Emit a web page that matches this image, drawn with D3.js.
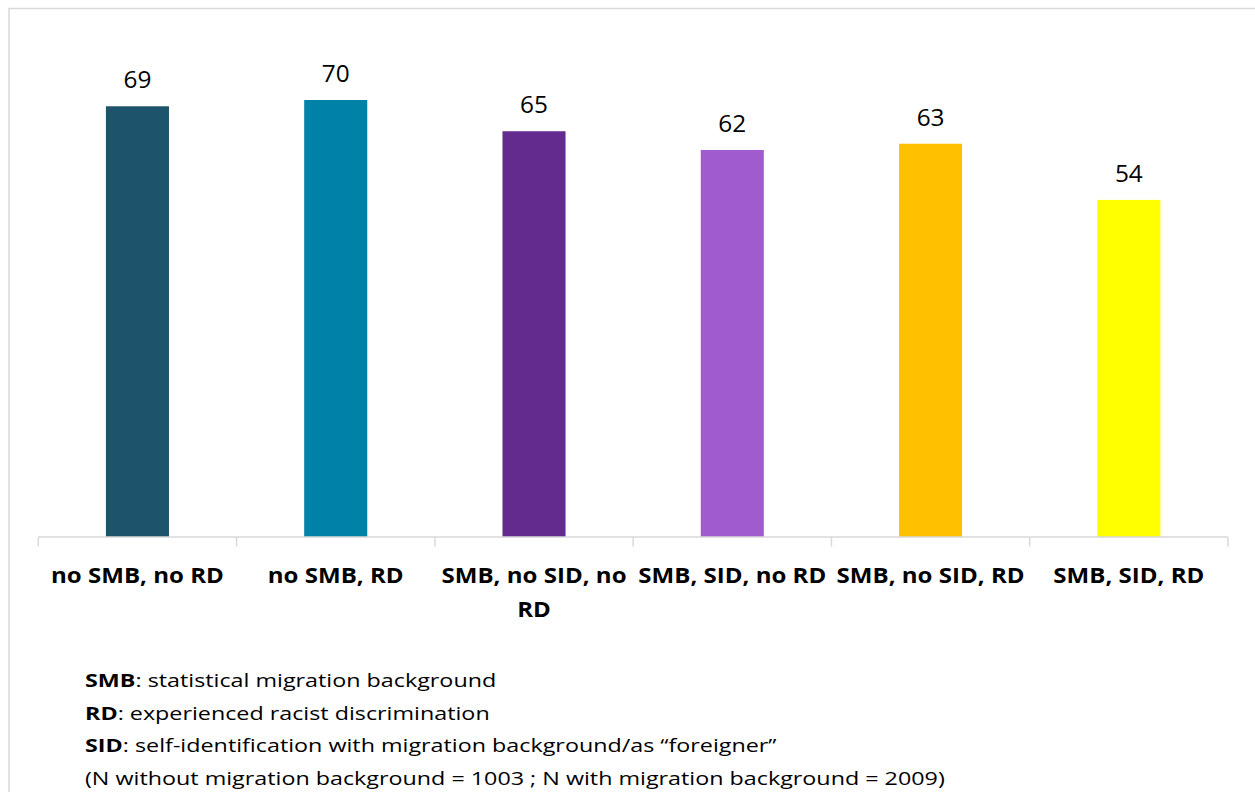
<!DOCTYPE html>
<html>
<head>
<meta charset="utf-8">
<script src="https://cdn.jsdelivr.net/npm/d3@7"></script>
<style>
  html, body { margin: 0; padding: 0; background: #fff; }
  svg { display: block; }
  text { font-family: "Open Sans", "Noto Sans", sans-serif; fill: #000; }
</style>
</head>
<body>
<svg id="chart" width="1255" height="792"></svg>
<script>
// Share of respondents per group (percent)
const categories = [
  "no SMB, no RD",
  "no SMB, RD",
  "SMB, no SID, no RD",
  "SMB, SID, no RD",
  "SMB, no SID, RD",
  "SMB, SID, RD"
];
const values = [69, 70, 65, 62, 63, 54];
const barColors = ["#1E546B", "#0081A7", "#642B8E", "#A05BCF", "#FFC000", "#FFFF00"];

// Footnote lines: bold abbreviation followed by its explanation
const noteTerms = ["SMB", "RD", "SID"];
const noteTexts = [
  ": statistical migration background",
  ": experienced racist discrimination",
  ": self-identification with migration background/as \u201Cforeigner\u201D"
];
const sampleNote = "(N without migration background = 1003 ; N with migration background = 2009)";

// Text is drawn slightly widened horizontally
const valueStretch = 1.06;
const labelStretch = 1.12;
const noteStretch = 1.26;

const svg = d3.select("#chart");

// Chart frame (light grey, running off the right and bottom edges)
svg.append("rect")
  .attr("x", 9).attr("y", 8.5)
  .attr("width", 1300).attr("height", 850)
  .attr("fill", "none")
  .attr("stroke", "#d9d9d9")
  .attr("stroke-width", 1.5);

const x = d3.scaleBand()
  .domain(categories)
  .range([38.3, 1228])
  .paddingInner(0)
  .paddingOuter(0);

const y = d3.scaleLinear()
  .domain([0, 80])
  .range([537, 37.6]);

const barW = x.bandwidth() * 0.318;
const cx = d => x(d) + x.bandwidth() / 2;

// Bars
svg.append("g")
  .selectAll("rect")
  .data(categories)
  .join("rect")
  .attr("x", d => cx(d) - barW / 2)
  .attr("y", (d, i) => y(values[i]))
  .attr("width", barW)
  .attr("height", (d, i) => y(0) - y(values[i]))
  .attr("fill", (d, i) => barColors[i]);

// Value labels
svg.append("g")
  .selectAll("text")
  .data(categories)
  .join("text")
  .attr("transform", (d, i) => `translate(${cx(d)},${y(values[i]) - 18}) scale(${valueStretch},1)`)
  .attr("text-anchor", "middle")
  .style("font-size", "23px")
  .text((d, i) => values[i]);

// Category axis: baseline plus tick marks at the band edges
const axisG = svg.append("g");
const range = x.range();
axisG.append("line")
  .attr("x1", range[0]).attr("x2", range[1])
  .attr("y1", y(0)).attr("y2", y(0))
  .attr("stroke", "#d9d9d9").attr("stroke-width", 1.5);
const edges = categories.map(c => x(c)).concat([range[1]]);
axisG.selectAll("line.tick")
  .data(edges)
  .join("line")
  .attr("class", "tick")
  .attr("x1", d => d).attr("x2", d => d)
  .attr("y1", y(0)).attr("y2", y(0) + 9.5)
  .attr("stroke", "#d9d9d9").attr("stroke-width", 1.5);

// Category labels, wrapped to the band width
const labelG = svg.append("g");
categories.forEach(c => {
  const t = labelG.append("text")
    .attr("transform", `translate(${cx(c)},583) scale(${labelStretch},1)`)
    .attr("text-anchor", "middle")
    .style("font-size", "21.5px")
    .style("font-weight", "bold");
  const words = c.split(" ");
  let line = [];
  let tspan = t.append("tspan").attr("x", 0).attr("dy", 0);
  const maxW = x.bandwidth() - 2;
  words.forEach(w => {
    line.push(w);
    tspan.text(line.join(" "));
    if (tspan.node().getComputedTextLength() * labelStretch > maxW && line.length > 1) {
      line.pop();
      tspan.text(line.join(" "));
      line = [w];
      tspan = t.append("tspan")
        .attr("x", 0)
        .attr("dy", 34)
        .text(w);
    }
  });
});

// Footnotes
const noteG = svg.append("g").style("font-size", "18.5px");
const noteY = i => 687.3 + i * 32.4;
noteTerms.forEach((term, i) => {
  const t = noteG.append("text")
    .attr("transform", `translate(85,${noteY(i)}) scale(${noteStretch},1)`);
  t.append("tspan").style("font-weight", "bold").text(term);
  t.append("tspan").text(noteTexts[i]);
});
noteG.append("text")
  .attr("transform", `translate(85,${noteY(3)}) scale(${noteStretch},1)`)
  .text(sampleNote);
</script>
</body>
</html>
